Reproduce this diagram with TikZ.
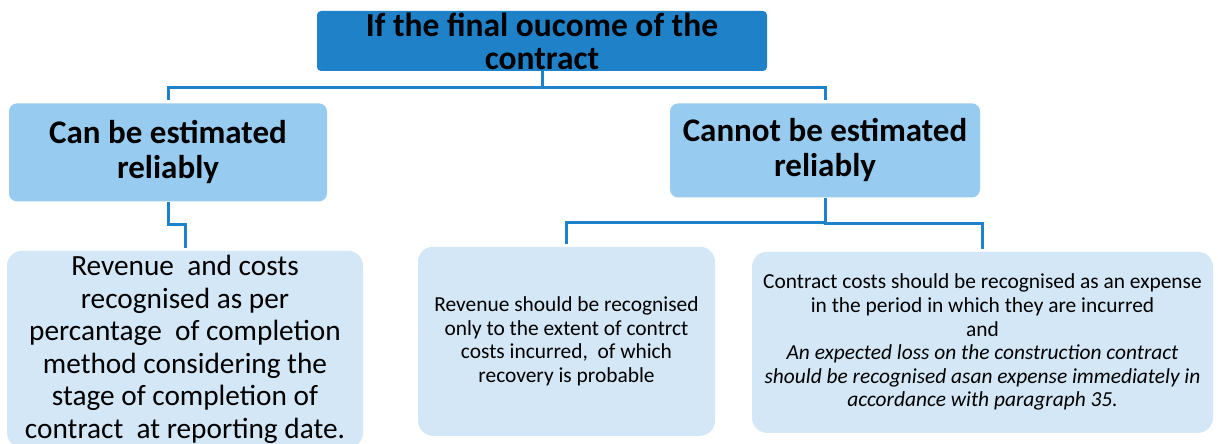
\documentclass[tikz,border=0pt]{standalone}
\usepackage{fontspec}
\setmainfont{Carlito}
\usepackage{tikz}
\usetikzlibrary{positioning}
\definecolor{topblue}{RGB}{31,130,200}
\definecolor{midblue}{RGB}{151,203,239}
\definecolor{lowblue}{RGB}{211,231,246}

\begin{document}
\begin{tikzpicture}[x=1pt,y=-1pt,
  top node/.style={fill=topblue,rounded corners=4pt,inner sep=0pt,align=center,
    minimum width=450pt,minimum height=60pt,font=\fontsize{33.5}{33}\selectfont\bfseries},
  mid node/.style={fill=midblue,rounded corners=8pt,inner sep=0pt,align=center,
    font=\fontsize{33}{35}\selectfont\bfseries},
  low node/.style={fill=lowblue,rounded corners=15pt,inner sep=0pt,align=center},
  link/.style={draw=topblue,line width=3pt,shorten >=3pt}]

  \useasboundingbox (0,0) rectangle (1218,444);

  \node[top node] (1) at (542,41) {If the final oucome of the\\contract};
  \node[mid node,minimum width=318pt,minimum height=98pt] (2) [below=32pt of 1,xshift=-374pt] {Can be estimated\\reliably};
  \node[mid node,minimum width=310pt,minimum height=94pt] (3) [below=32pt of 1,xshift=283pt] {Cannot be estimated\\reliably};

  \node[low node,minimum width=356pt,minimum height=197pt,font=\fontsize{29.3}{32.5}\selectfont] (2a) [below=49pt of 2,xshift=17pt]
    {Revenue\ \ and costs\\recognised as per\\percantage\ \ of completion\\method considering the\\stage of completion of\\contract\ \ at reporting date.};
  \node[low node,minimum width=297pt,minimum height=189pt,font=\fontsize{21.4}{23.6}\selectfont] (3a) [below=49pt of 3,xshift=-258.5pt]
    {Revenue should be recognised\\only to the extent of contrct\\costs incurred,\ \ of which\\recovery is probable};
  \node[low node,minimum width=461pt,minimum height=181pt,font=\fontsize{21.4}{23.6}\selectfont] (3b) [below=54pt of 3,xshift=157.5pt]
    {Contract costs should be recognised as an expense\\in the period in which they are incurred\\and\\
     \textit{An expected loss on the construction contract}\\
     \textit{should be recognised asan expense immediately in}\\
     \textit{accordance with paragraph 35.}};

  \draw[link] (1.south) -- ++(0,16) -| (2.north);
  \draw[link] (1.south) -- ++(0,16) -| (3.north);
  \draw[link] (2.south) -- ++(0,23) -| (2a.north);
  \draw[link] (3.south) -- ++(0,25) -| (3a.north);
  \draw[link] (3.south) -- ++(0,26) -| (3b.north);
\end{tikzpicture}
\end{document}
